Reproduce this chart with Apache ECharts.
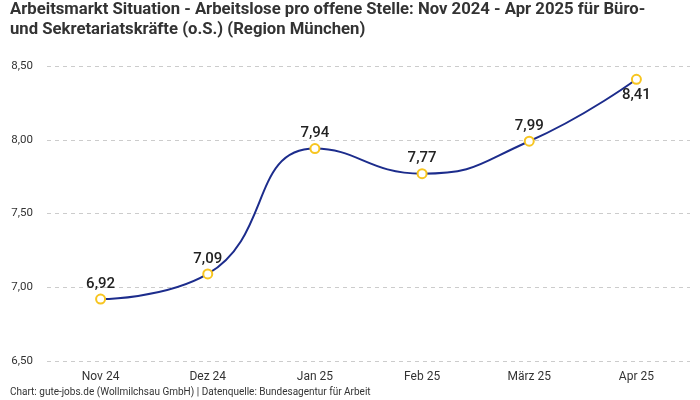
<!DOCTYPE html>
<html>
<head>
<meta charset="utf-8">
<script src="https://cdn.jsdelivr.net/npm/echarts@6/dist/echarts.min.js"></script>
<style>html,body{margin:0;padding:0;background:#fff}#c{width:700px;height:400px}</style>
</head>
<body>
<div id="c"></div>
<script>
const categories = ["Nov 24", "Dez 24", "Jan 25", "Feb 25", "März 25", "Apr 25"];
const values = [6.92, 7.09, 7.94, 7.77, 7.99, 8.41];
const titleText = "Arbeitsmarkt Situation - Arbeitslose pro offene Stelle: Nov 2024 - Apr 2025 für Büro-\nund Sekretariatskräfte (o.S.) (Region München)";
const footerText = "Chart: gute-jobs.de (Wollmilchsau GmbH) | Datenquelle: Bundesagentur für Arbeit";

const FONT = "'Roboto', 'Noto Sans', sans-serif";
const fmt = v => v.toFixed(2).replace('.', ',');

const chart = echarts.init(document.getElementById('c'), null, {renderer: 'canvas'});
chart.setOption({
  animation: false,
  backgroundColor: '#fff',
  title: [{
    text: titleText,
    left: 10, top: 0, padding: 0,
    textStyle: {fontFamily: FONT, fontSize: 16.7, fontWeight: 'bold', color: '#333', lineHeight: 20}
  }, {
    text: footerText,
    left: 10, top: 387, padding: 0,
    textStyle: {fontFamily: FONT, fontSize: 10, fontWeight: 'normal', color: '#333'}
  }],
  grid: {left: 47, right: 10, top: 66, bottom: 39, containLabel: false},
  xAxis: {
    type: 'category',
    data: categories,
    boundaryGap: true,
    axisLine: {show: false},
    axisTick: {show: false},
    axisLabel: {fontFamily: FONT, fontSize: 12, color: '#333', margin: 10}
  },
  yAxis: {
    type: 'value',
    min: 6.5, max: 8.5, interval: 0.5,
    axisLine: {show: false},
    axisTick: {show: false},
    axisLabel: {fontFamily: FONT, fontSize: 11.5, color: '#333', margin: 14, formatter: v => fmt(v)},
    splitLine: {lineStyle: {color: '#ccc', type: [4, 4], width: 1}}
  },
  series: [{
    type: 'line',
    data: values.map((v, i) => ({
      value: v,
      label: i === values.length - 1 ? {position: 'bottom', distance: 3} : {position: 'top', distance: 2}
    })),
    smooth: 0.5,
    symbol: 'circle',
    symbolSize: 9,
    lineStyle: {color: '#1c2c8c', width: 2},
    itemStyle: {color: '#fff', borderColor: '#f7c520', borderWidth: 2},
    label: {
      show: true,
      fontFamily: FONT, fontSize: 15, fontWeight: 500, color: '#222',
      formatter: p => fmt(p.value)
    },
    z: 3
  }]
});
</script>
</body>
</html>
